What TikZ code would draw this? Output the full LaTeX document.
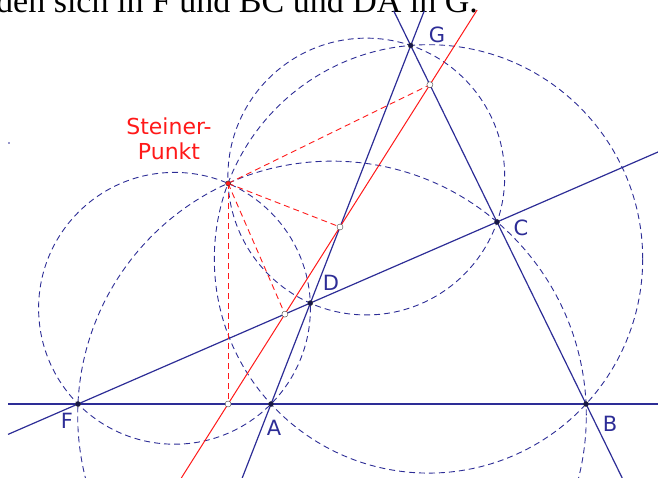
\documentclass[tikz,border=0pt]{standalone}
\usepackage{fontspec}
\setmainfont{Liberation Serif}
\newfontfamily\labelfont{DejaVu Sans}
\usepackage{tikz}
\definecolor{geoblue}{RGB}{45,45,150}
\definecolor{geored}{RGB}{255,25,25}

\begin{document}
\begin{tikzpicture}[x=1pt,y=-1pt,
  gline/.style={draw=geoblue,line width=1.2pt},
  circ/.style={draw=geoblue,line width=0.9pt,dash pattern=on 6pt off 4pt},
  simson/.style={draw=geored,line width=1pt},
  perp/.style={draw=geored,line width=0.9pt,dash pattern=on 6pt off 4pt},
  vertex/.style={circle,draw=black!80,fill=geoblue!50!black,inner sep=0pt,
    minimum size=5pt},
  foot/.style={circle,draw=black!75,fill=white,inner sep=0pt,minimum size=6pt},
  lab/.style={text=geoblue,font=\labelfont\fontsize{21}{21}\selectfont},
  steinerlab/.style={text=geored,align=center,
    font=\labelfont\fontsize{22}{25}\selectfont}
]
\clip (0,0) rectangle (658,478);
\node[anchor=base west,inner sep=0pt,font=\fontsize{34}{34}\selectfont]
  (caption) at (-4,13) {den sich in F und BC und DA in G.};
\coordinate (F) at (78,404);
\coordinate (A) at (271,404);
\coordinate (B) at (586,404);
\coordinate (C) at (497,222);
\coordinate (G) at (410.7,45.5);
\coordinate (D) at (310.3,303.1);
\coordinate (M) at (228.1,183.4);
\coordinate (P1) at (228.1,404);
\coordinate (P2) at (284.9,314.1);
\coordinate (P3) at (340.0,227.0);
\coordinate (P4) at (429.9,84.7);
\coordinate (fb0) at (8,404);
\coordinate (fb1) at (658,404);
\coordinate (fc0) at (8,434.4);
\coordinate (fc1) at (658,152.0);
\coordinate (ag0) at (242.2,478);
\coordinate (ag1) at (424.2,11);
\coordinate (bg0) at (622.2,478);
\coordinate (bg1) at (393.8,11);
\coordinate (sim0) at (181.3,478);
\coordinate (sim1) at (477.1,10);
\draw[circ] (428.5,258.9) circle[radius=214.2pt];
\draw[circ] (332,415.45) circle[radius=254.3pt];
\draw[circ] (174.5,308.3) circle[radius=135.9pt];
\draw[circ] (366.3,176.55) circle[radius=138.4pt];
\draw[gline] (fb0) -- (fb1);
\draw[gline] (fc0) -- (fc1);
\draw[gline] (ag0) -- (ag1);
\draw[gline] (bg0) -- (bg1);
\draw[simson] (sim0) -- (sim1);
\draw[perp] (M) -- (P1);
\draw[perp] (M) -- (P2);
\draw[perp] (M) -- (P3);
\draw[perp] (M) -- (P4);
\foreach \p in {F,A,B,C,D,G} \node[vertex] at (\p) {};
\foreach \p in {P1,P2,P3,P4} \node[foot] at (\p) {};
\node[circle,draw=black!80,fill=geored,inner sep=0pt,minimum size=5pt]
  (steiner) at (M) {};
\node[lab] (labF) at (67,421) {F};
\node[lab] (labA) at (274,428) {A};
\node[lab] (labB) at (610,424) {B};
\node[lab] (labC) at (521,228) {C};
\node[lab] (labD) at (331,283) {D};
\node[lab] (labG) at (437,35) {G};
\node[steinerlab] (steinertext) at (169,139) {Steiner-\\Punkt};
\fill[geoblue] (9,143) circle[radius=0.8pt];
\end{tikzpicture}
\end{document}
